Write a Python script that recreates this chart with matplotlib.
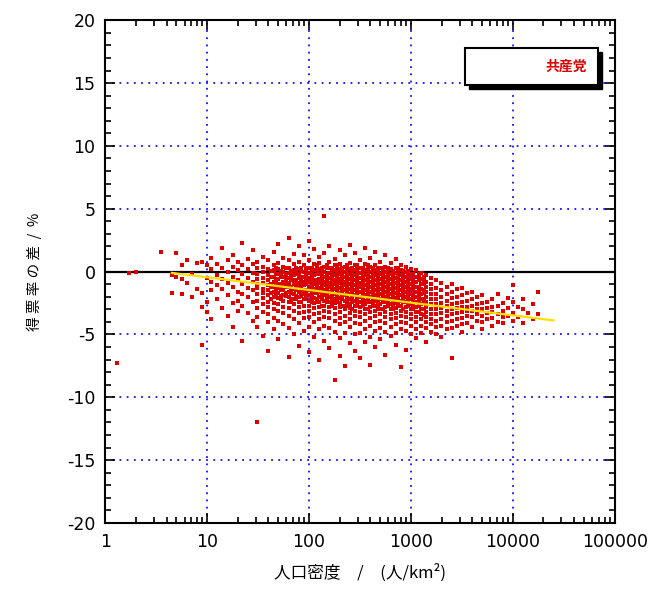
import numpy as np
import matplotlib.pyplot as plt
from matplotlib.patches import Rectangle
from matplotlib.ticker import LogLocator, MultipleLocator

plt.rcParams['font.family'] = ['DejaVu Sans', 'Noto Sans CJK JP']
plt.rcParams['axes.unicode_minus'] = False

# 人口密度 (人/km2) の列ごとに、得票率の差 (%) を読み取った値
col_density = [1.3, 1.7, 2.0, 3.5,
               4.5, 5.0, 5.7, 6.3, 7.1, 7.9, 8.9, 10, 11, 12.6, 14, 16, 18, 20, 22, 25, 28,
               31, 35, 40, 45, 50, 56, 63, 71, 79, 89, 100, 112, 126, 141, 158, 178, 200,
               224, 251, 282, 316, 355, 398, 447, 501, 562, 631, 708, 794, 891, 1000,
               1122, 1259, 1413, 1585, 1778, 1995, 2239, 2512, 2818, 3162, 3548, 3981,
               4467, 5012, 5623, 6310, 7079, 7943, 8913, 10000, 11220, 12589, 14125,
               15849, 17500]

col_diffs = [
    [-7.3], [-0.1], [0.0], [1.6],
    [-0.3, -1.7], [1.5, -0.4], [0.5, -0.6, -1.8], [0.9, -0.9], [-2.0, -0.2],
    [0.7, -1.4], [0.8, -1.7, -2.8, -5.8], [0.5, -0.5, -2.4, -3.2],
    [1.1, 0.2, -0.8, -1.5, -3.8], [0.6, -0.3, -1.1, -2.2],
    [1.9, 0.3, -0.6, -1.4, -2.9], [0.9, 0.0, -0.9, -1.9, -3.5],
    [1.3, 0.4, -0.4, -1.2, -2.5, -4.4], [0.8, 0.1, -0.7, -1.6, -2.3, -3.1],
    [2.3, 0.5, -0.2, -1.0, -1.8, -2.7, -5.5], [1.0, 0.2, -0.5, -1.3, -2.0, -3.3],
    [1.7, 0.6, -0.1, -0.8, -1.5, -2.4, -3.9],
    [0.8, 0.3, -0.2, -0.6, -1.0, -1.3, -1.8, -2.3, -2.9, -3.6, -4.4, -12.0],
    [1.2, 0.4, 0.0, -0.5, -0.9, -1.4, -1.7, -2.1, -2.6, -3.2, -5.1],
    [0.9, 0.2, -0.3, -0.7, -1.1, -1.5, -1.9, -2.4, -2.8, -3.4, -4.0, -6.3],
    [1.6, 0.5, 0.1, -0.4, -0.8, -1.2, -1.6, -2.0, -2.5, -3.0, -3.7, -4.6],
    [2.2, 0.7, 0.2, -0.2, -0.6, -1.0, -1.3, -1.7, -2.1, -2.6, -3.1, -3.9, -5.4],
    [1.1, 0.4, 0.0, -0.4, -0.8, -1.1, -1.5, -1.9, -2.3, -2.8, -3.3, -4.2],
    [2.7, 0.9, 0.3, -0.1, -0.5, -0.9, -1.2, -1.6, -2.0, -2.4, -2.9, -3.5, -4.5, -6.8],
    [1.4, 0.6, 0.1, -0.3, -0.7, -1.0, -1.4, -1.8, -2.2, -2.6, -3.1, -3.8, -5.0],
    [2.0, 0.8, 0.2, -0.2, -0.5, -0.9, -1.2, -1.6, -2.0, -2.4, -2.8, -3.3, -4.1, -5.9],
    [1.3, 0.5, 0.0, -0.4, -0.8, -1.1, -1.5, -1.8, -2.2, -2.7, -3.2, -3.7, -4.7],
    [2.4, 0.9, 0.3, -0.1, -0.5, -0.8, -1.2, -1.5, -1.9, -2.3, -2.7, -3.1, -3.6, -4.4, -6.4],
    [1.8, 0.6, 0.1, -0.3, -0.7, -1.0, -1.4, -1.7, -2.1, -2.5, -2.9, -3.4, -4.0, -5.2],
    [1.2, 0.7, 0.2, -0.2, -0.6, -0.9, -1.3, -1.6, -2.0, -2.4, -2.8, -3.3, -3.8, -4.6, -7.0],
    [4.4, 1.5, 0.4, 0.0, -0.4, -0.8, -1.1, -1.5, -1.9, -2.3, -2.7, -3.1, -3.6, -4.3, -5.5],
    [2.0, 0.8, 0.3, -0.1, -0.5, -0.9, -1.2, -1.6, -2.0, -2.4, -2.8, -3.2, -3.7, -4.5, -6.1],
    [1.0, 0.5, 0.1, -0.3, -0.7, -1.0, -1.4, -1.8, -2.2, -2.5, -2.9, -3.4, -3.9, -4.8, -8.6],
    [1.7, 0.6, 0.2, -0.2, -0.6, -0.9, -1.3, -1.7, -2.1, -2.5, -2.8, -3.2, -3.7, -4.2, -5.3, -6.7],
    [1.3, 0.4, 0.0, -0.4, -0.8, -1.1, -1.5, -1.9, -2.3, -2.7, -3.0, -3.5, -4.0, -4.9, -7.5],
    [2.1, 0.7, 0.2, -0.2, -0.6, -1.0, -1.4, -1.8, -2.2, -2.6, -2.9, -3.3, -3.8, -4.4, -5.7],
    [1.5, 0.5, 0.1, -0.3, -0.7, -1.1, -1.5, -1.9, -2.3, -2.7, -3.1, -3.5, -4.1, -5.0, -6.3],
    [0.9, 0.3, -0.1, -0.5, -0.9, -1.2, -1.6, -2.0, -2.4, -2.8, -3.2, -3.6, -4.2, -4.9, -6.9],
    [1.9, 0.6, 0.1, -0.3, -0.7, -1.1, -1.5, -1.9, -2.3, -2.6, -3.0, -3.4, -3.9, -4.6, -5.6],
    [1.1, 0.4, 0.0, -0.4, -0.8, -1.2, -1.6, -2.0, -2.4, -2.8, -3.2, -3.7, -4.3, -5.2, -7.4],
    [1.6, 0.5, 0.1, -0.3, -0.7, -1.1, -1.5, -1.9, -2.3, -2.7, -3.1, -3.5, -4.0, -4.7, -6.0],
    [0.8, 0.3, -0.2, -0.6, -1.0, -1.4, -1.8, -2.2, -2.6, -3.0, -3.4, -3.9, -4.5, -5.4],
    [1.3, 0.4, 0.0, -0.4, -0.8, -1.2, -1.6, -2.0, -2.4, -2.8, -3.2, -3.6, -4.1, -4.8, -6.6],
    [0.7, 0.2, -0.2, -0.6, -1.0, -1.4, -1.8, -2.2, -2.6, -3.0, -3.4, -3.8, -4.4, -5.1],
    [1.0, 0.3, -0.1, -0.5, -0.9, -1.3, -1.7, -2.1, -2.5, -2.9, -3.3, -3.7, -4.2, -4.9, -5.8],
    [0.5, 0.1, -0.3, -0.7, -1.1, -1.5, -1.9, -2.3, -2.7, -3.1, -3.5, -4.0, -4.6, -7.6],
    [0.4, 0.0, -0.4, -0.8, -1.2, -1.6, -2.0, -2.4, -2.8, -3.2, -3.6, -4.1, -4.7, -6.2],
    [0.2, -0.2, -0.6, -1.0, -1.4, -1.8, -2.2, -2.6, -3.0, -3.4, -3.8, -4.3, -5.0],
    [0.1, -0.4, -0.8, -1.2, -1.6, -2.0, -2.4, -2.8, -3.2, -3.6, -4.0, -4.6, -5.3],
    [-0.1, -0.6, -1.0, -1.4, -1.8, -2.2, -2.6, -3.0, -3.4, -3.8, -4.3, -4.9],
    [-0.3, -0.8, -1.2, -1.6, -2.0, -2.4, -2.8, -3.2, -3.6, -4.0, -4.5, -5.6],
    [-0.5, -1.0, -1.4, -1.8, -2.2, -2.6, -3.0, -3.4, -3.8, -4.2, -4.8],
    [-0.7, -1.3, -1.8, -2.2, -2.6, -3.0, -3.4, -3.9, -4.4, -5.0],
    [-0.9, -1.5, -2.0, -2.5, -2.9, -3.3, -3.8, -4.3, -5.2],
    [-1.2, -1.8, -2.3, -2.7, -3.1, -3.5, -4.0, -4.6],
    [-1.0, -1.6, -2.1, -2.6, -3.0, -3.4, -3.9, -4.5, -6.9],
    [-1.4, -2.0, -2.5, -2.9, -3.3, -3.8, -4.3],
    [-1.3, -1.9, -2.4, -2.8, -3.2, -3.7, -4.2, -4.8],
    [-1.7, -2.3, -2.8, -3.1, -3.5, -4.1],
    [-1.6, -2.2, -2.7, -3.1, -3.6, -4.4],
    [-2.0, -2.6, -3.0, -3.4, -3.9],
    [-1.9, -2.5, -3.0, -3.5, -4.0, -4.6],
    [-2.4, -2.9, -3.3, -3.8],
    [-2.2, -2.8, -3.2, -3.7, -4.3],
    [-1.8, -2.7, -3.4, -4.0],
    [-2.5, -3.1, -3.6, -4.1],
    [-2.1, -2.9, -3.5],
    [-1.1, -2.4, -3.3, -3.9],
    [-2.8, -3.6],
    [-2.2, -3.0, -4.1],
    [-3.3],
    [-2.6, -3.8],
    [-1.6, -3.4],
]

# 中心部の密集した帯 (間の列)
mid_density = [42, 47, 53, 60, 67, 75, 84, 94, 106, 119, 133, 150, 168, 188, 211,
               237, 266, 299, 335, 376, 422, 473, 531, 596, 668, 750, 841, 944,
               1059, 1189, 1334]

mid_diffs = [
    [0.05, -0.45, -0.95, -1.2, -1.7, -2.2],
    [0.3, -0.2, -0.7, -0.95, -1.45, -1.95],
    [0.05, -0.2, -0.45, -0.95, -1.2, -1.45, -1.95, -2.2],
    [0.3, -0.2, -0.45, -0.7, -0.95, -1.2, -1.7, -1.95],
    [0.05, -0.2, -0.45, -0.7, -1.2, -1.45, -1.7, -2.2, -2.45],
    [0.3, 0.05, -0.2, -0.7, -0.95, -1.2, -1.45, -1.95, -2.2],
    [0.3, 0.05, -0.45, -0.7, -0.95, -1.2, -1.45, -1.7, -1.95, -2.45],
    [0.3, 0.05, -0.2, -0.45, -0.7, -0.95, -1.45, -1.7, -1.95, -2.2],
    [0.3, 0.05, -0.2, -0.45, -0.7, -0.95, -1.2, -1.45, -1.7, -1.95, -2.2, -2.45],
    [0.55, 0.3, 0.05, -0.2, -0.7, -0.95, -1.2, -1.45, -1.7, -2.2, -2.45],
    [0.3, 0.05, -0.2, -0.45, -0.7, -0.95, -1.2, -1.45, -1.7, -1.95, -2.2, -2.7],
    [0.55, 0.3, -0.2, -0.45, -0.7, -0.95, -1.2, -1.45, -1.7, -1.95, -2.2, -2.45],
    [0.3, 0.05, -0.2, -0.45, -0.7, -0.95, -1.2, -1.45, -1.95, -2.2, -2.45, -2.7],
    [0.55, 0.3, 0.05, -0.2, -0.45, -0.7, -0.95, -1.2, -1.45, -1.7, -1.95, -2.2, -2.45],
    [0.3, 0.05, -0.2, -0.45, -0.7, -0.95, -1.2, -1.45, -1.7, -1.95, -2.2, -2.7],
    [0.55, 0.3, 0.05, -0.2, -0.45, -0.7, -0.95, -1.2, -1.45, -1.7, -1.95, -2.2, -2.45, -2.7],
    [0.3, 0.05, -0.2, -0.45, -0.7, -0.95, -1.2, -1.45, -1.7, -1.95, -2.2, -2.45, -2.95],
    [0.55, 0.3, 0.05, -0.2, -0.45, -0.7, -0.95, -1.2, -1.45, -1.7, -1.95, -2.2, -2.45, -2.7],
    [0.3, 0.05, -0.2, -0.45, -0.7, -0.95, -1.2, -1.45, -1.7, -1.95, -2.2, -2.45, -2.7],
    [0.55, 0.3, 0.05, -0.2, -0.45, -0.7, -0.95, -1.2, -1.45, -1.7, -1.95, -2.2, -2.45, -2.95],
    [0.3, 0.05, -0.2, -0.45, -0.7, -0.95, -1.2, -1.45, -1.7, -1.95, -2.2, -2.45, -2.7],
    [0.3, 0.05, -0.2, -0.45, -0.7, -0.95, -1.2, -1.45, -1.7, -1.95, -2.2, -2.45, -2.7, -2.95],
    [0.3, 0.05, -0.2, -0.45, -0.7, -0.95, -1.2, -1.45, -1.7, -1.95, -2.2, -2.45, -2.95],
    [0.3, 0.05, -0.2, -0.45, -0.7, -0.95, -1.2, -1.45, -1.7, -1.95, -2.2, -2.45, -2.7],
    [0.05, -0.2, -0.45, -0.7, -0.95, -1.2, -1.45, -1.7, -1.95, -2.2, -2.45, -2.7, -2.95],
    [0.3, 0.05, -0.2, -0.45, -0.7, -0.95, -1.2, -1.45, -1.7, -1.95, -2.2, -2.45, -2.7],
    [0.05, -0.2, -0.45, -0.7, -0.95, -1.2, -1.45, -1.7, -1.95, -2.2, -2.45, -2.95],
    [0.05, -0.2, -0.45, -0.7, -0.95, -1.2, -1.45, -1.7, -1.95, -2.2, -2.45, -2.7],
    [-0.2, -0.45, -0.7, -0.95, -1.2, -1.45, -1.7, -1.95, -2.2, -2.45, -2.7, -2.95],
    [-0.2, -0.45, -0.7, -1.2, -1.45, -1.7, -1.95, -2.2, -2.45, -2.7, -3.2],
    [-0.45, -0.7, -0.95, -1.45, -1.7, -2.2, -2.45, -2.95, -3.45],
]

# 回帰直線 (対数密度に対して一次式)
fit_slope = -1.01
fit_intercept = 0.56
fit_range = [4.5, 25000]

density = np.concatenate([np.repeat(col_density, [len(d) for d in col_diffs]),
                          np.repeat(mid_density, [len(d) for d in mid_diffs])])
diff = np.concatenate([np.concatenate(col_diffs), np.concatenate(mid_diffs)])

cjk = ['Noto Sans CJK JP', 'DejaVu Sans']

fig = plt.figure(figsize=(6.66, 5.95), dpi=100)
ax = fig.add_axes([0.158, 0.121, 0.765, 0.845])

ax.set_xscale('log')
ax.set_xlim(1, 100000)
ax.set_ylim(-20, 20)

ax.grid(True, which='major', color='#1010ff', linestyle=(0, (1, 3)), linewidth=1.3)
ax.axhline(0, color='black', linewidth=1.6, zorder=2)

ax.plot(density, diff, 's', color='#dc0000', markersize=3.4, markeredgewidth=0, zorder=3)

xf = np.array(fit_range, dtype=float)
ax.plot(xf, fit_intercept + fit_slope * np.log10(xf), color='#ffe000', linewidth=1.6, zorder=4)

ax.set_xticks([1, 10, 100, 1000, 10000, 100000])
ax.set_xticklabels(['1', '10', '100', '1000', '10000', '100000'])
ax.xaxis.set_minor_locator(LogLocator(base=10, subs=np.arange(2, 10), numticks=20))
ax.yaxis.set_major_locator(MultipleLocator(5))
ax.yaxis.set_minor_locator(MultipleLocator(1))
ax.tick_params(which='both', direction='in', top=True, right=True, labelsize=12.5, width=1.2)
ax.tick_params(which='major', length=7, pad=7)
ax.tick_params(which='minor', length=4)
for s in ax.spines.values():
    s.set_linewidth(1.5)

ax.set_xlabel('人口密度　/　(人/km²)', fontsize=12, family=cjk, labelpad=9)
ax.set_ylabel('得 票 率 の 差  /  %', fontsize=10.5, family=cjk, labelpad=18)

# 凡例の枠 (影つき)
ax.add_patch(Rectangle((0.714, 0.863), 0.261, 0.073, transform=ax.transAxes,
                       facecolor='black', edgecolor='black', zorder=5))
ax.add_patch(Rectangle((0.706, 0.871), 0.261, 0.073, transform=ax.transAxes,
                       facecolor='white', edgecolor='black', linewidth=1.5, zorder=6))
ax.text(0.945, 0.907, '共産党', transform=ax.transAxes, ha='right', va='center',
        color='#e00000', fontsize=10, fontweight='bold', family=cjk, zorder=7)

plt.savefig('out.png', dpi=100)
